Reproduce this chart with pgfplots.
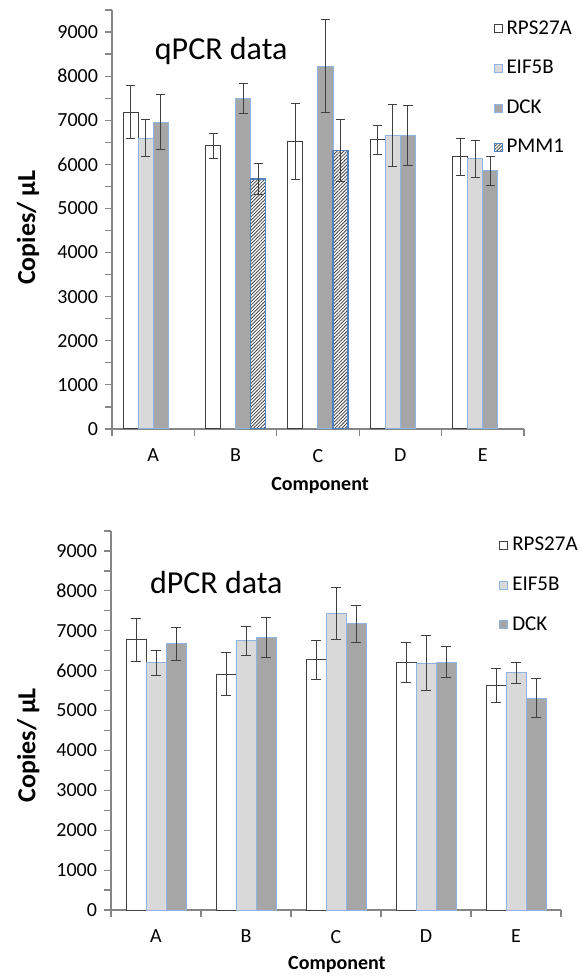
\documentclass[border=0pt]{standalone}
\usepackage{pgfplots}
\pgfplotsset{compat=1.18}
\usepackage{fontspec}
\setmainfont{Carlito}
\usetikzlibrary{patterns.meta}

\definecolor{axisgray}{HTML}{868686}
\definecolor{bardark}{HTML}{404040}
\definecolor{eiffill}{HTML}{D9D9D9}
\definecolor{dckfill}{HTML}{A6A6A6}
\definecolor{barblue}{HTML}{8EB4E3}
\definecolor{pmmblue}{HTML}{4F81BD}

\pgfplotsset{
  pcr/.style={
    scale only axis,
    ybar=0pt,
    axis lines=left,
    axis line style={-, draw=axisgray, line width=0.6pt},
    xmin=-0.5, xmax=4.5, ymin=0, ymax=9500,
    xtick={0,...,4}, xticklabels={A,B,C,D,E},
    minor xtick={-0.5,0.5,...,4.5},
    ytick={0,1000,...,9000},
    minor ytick={500,1500,...,9500},
    tick align=outside,
    tick style={draw=axisgray, line width=0.6pt},
    major x tick style={draw=none},
    major tick length=3.5pt, minor tick length=3.5pt,
    scaled y ticks=false,
    tick label style={font=\fontsize{10}{12}\selectfont,
      /pgf/number format/assume math mode=true, /pgf/number format/1000 sep={}},
    xticklabel style={yshift=-3pt},
    ylabel={Copies/ µL},
    xlabel={Component},
    legend cell align=left,
    legend image code/.code={\draw[#1, line width=0.5pt] (0pt,-2pt) rectangle (4pt,2pt);},
    error bars/y dir=both, error bars/y explicit,
    error bars/error bar style={draw=bardark, line width=0.5pt},
    error bars/error mark options={rotate=90, mark size=2.3pt, draw=bardark, line width=0.5pt},
  },
  rps/.style={draw=bardark, fill=white, line width=0.5pt},
  eif/.style={draw=barblue, fill=eiffill, line width=0.5pt},
  dck/.style={draw=barblue, fill=dckfill, line width=0.5pt},
  pmm/.style={draw=pmmblue, fill=white, line width=0.6pt,
    postaction={pattern={Lines[angle=45,distance=1.2pt,line width=0.4pt]}, pattern color=bardark}},
}

\begin{document}
\begin{tikzpicture}
\useasboundingbox (0,0) rectangle (289.5pt,488.5pt);

% qPCR
\begin{axis}[pcr,
  at={(56pt,274pt)}, anchor=south west,
  width=206pt, height=209.5pt,
  bar width=7.5pt,
  ylabel style={font=\bfseries\fontsize{13}{15}\selectfont, at={(axis description cs:-0.204,0.48)}, anchor=center},
  xlabel style={font=\bfseries\fontsize{10}{12}\selectfont, at={(axis description cs:0.505,-0.136)}, anchor=center},
  legend style={draw=none, fill=none, font=\fontsize{10.5}{12}\selectfont,
    at={(0.925,0.985)}, anchor=north west, row sep=7.5pt, inner sep=0pt},
]
\addplot[rps] coordinates {(0,7180) +- (0,600) (1,6420) +- (0,280) (2,6520) +- (0,860) (3,6560) +- (0,330) (4,6170) +- (0,425)};
\addlegendentry{RPS27A}
\addplot[eif] coordinates {(0,6590) +- (0,420) (3,6660) +- (0,700) (4,6130) +- (0,420)};
\addlegendentry{EIF5B}
\addplot[dck] coordinates {(0,6960) +- (0,620) (1,7500) +- (0,340) (2,8230) +- (0,1050) (3,6660) +- (0,680) (4,5850) +- (0,330)};
\addlegendentry{DCK}
\addplot[pmm] coordinates {(1,5670) +- (0,350) (2,6310) +- (0,710)};
\addlegendentry{PMM1}
\node[anchor=base west, font=\fontsize{16}{19}\selectfont] at (rel axis cs:0.087,0.881) {qPCR data};
\end{axis}

% dPCR
\begin{axis}[pcr,
  at={(55.5pt,33.5pt)}, anchor=south west,
  width=225pt, height=189.5pt,
  bar width=10pt,
  ylabel style={font=\bfseries\fontsize{13}{15}\selectfont, at={(axis description cs:-0.184,0.435)}, anchor=center},
  xlabel style={font=\bfseries\fontsize{10}{12}\selectfont, at={(axis description cs:0.502,-0.145)}, anchor=center},
  legend style={draw=none, fill=none, font=\fontsize{10.5}{12}\selectfont,
    at={(0.862,0.995)}, anchor=north west, row sep=7.5pt, inner sep=0pt},
]
\addplot[rps] coordinates {(0,6770) +- (0,540) (1,5910) +- (0,540) (2,6270) +- (0,480) (3,6210) +- (0,505) (4,5620) +- (0,430)};
\addlegendentry{RPS27A}
\addplot[eif] coordinates {(0,6200) +- (0,315) (1,6750) +- (0,360) (2,7430) +- (0,655) (3,6180) +- (0,690) (4,5950) +- (0,260)};
\addlegendentry{EIF5B}
\addplot[dck] coordinates {(0,6670) +- (0,420) (1,6830) +- (0,510) (2,7170) +- (0,465) (3,6210) +- (0,390) (4,5310) +- (0,495)};
\addlegendentry{DCK}
\node[anchor=base west, font=\fontsize{16}{19}\selectfont] at (rel axis cs:0.071,0.836) {dPCR data};
\end{axis}
\end{tikzpicture}
\end{document}
